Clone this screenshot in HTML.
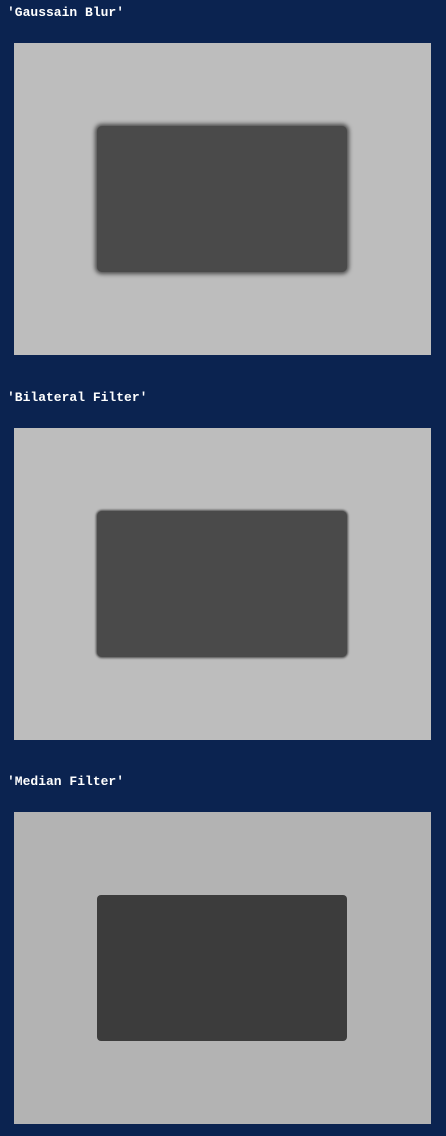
<!DOCTYPE html>
<html><head><style>
html,body{margin:0;padding:0;}
body{width:446px;height:1136px;background:#0b2350;position:relative;overflow:hidden;font-family:"Liberation Mono",monospace;}
.t{position:absolute;left:7px;color:#fff;font-size:13px;font-weight:bold;line-height:16px;}
.img{position:absolute;left:14px;width:417px;height:312px;}
.r{position:absolute;left:83px;top:83px;width:250px;height:146px;border-radius:5px;}
.g{background:#bdbdbd;}
.g .r{background:#4a4a4a;box-shadow:0 0 4px 2px #4a4a4a;}
.m{background:#b3b3b3;}
.m .r{background:#3c3c3c;border-radius:4px;}
</style></head><body>
<div class="t" style="top:5px">'Gaussain Blur'</div>
<div class="img g" style="top:43px"><div class="r"></div></div>
<div class="t" style="top:390px">'Bilateral Filter'</div>
<div class="img g" style="top:428px"><div class="r" style="box-shadow:0 0 2px 1px #4a4a4a"></div></div>
<div class="t" style="top:774px">'Median Filter'</div>
<div class="img m" style="top:812px"><div class="r"></div></div>
</body></html>
